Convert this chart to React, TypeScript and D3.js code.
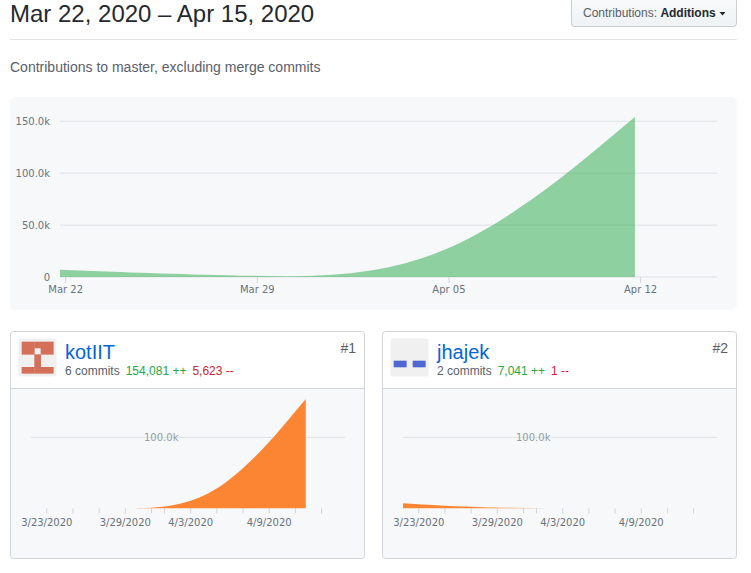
import * as d3 from "d3";

// weekly buckets (GitHub reports week starts in UTC, shown here 5h earlier)
const weeks = ["2020-03-22", "2020-03-29", "2020-04-05", "2020-04-12"];
const rangeEnd = "2020-04-15";
const totalAdditions = [7041, 0, 0, 154081];

const contributors = ["kotIIT", "jhajek"];
const ranks = ["#1", "#2"];
const commits = [6, 2];
const additions = [154081, 7041];
const deletions = [5623, 1];
const weeklyAdditions = [
  [0, 0, 0, 154081],
  [7041, 0, 0, 0],
];
const identicons = [
  ["11111", "11011", "00100", "00100", "11111"],
  ["00000", "00000", "00000", "11011", "00000"],
];
const identiconColors = ["#d4705a", "#4f67d2"];

const parseDay = d3.timeParse("%Y-%m-%d");
const shift = (s: string) => d3.timeHour.offset(parseDay(s)!, -5);
const dates = weeks.map(shift);
const domain: [Date, Date] = [shift(weeks[0]), shift(rangeEnd)];

const fmtK = (v: number) => (v === 0 ? "0" : `${(v / 1000).toFixed(1)}k`);
const fmtWeek = d3.timeFormat("%b %d");
const fmtDay = d3.timeFormat("%-m/%-d/%Y");

const SANS = "'Liberation Sans', Arial, sans-serif";
const AXIS = "'DejaVu Sans', sans-serif";

function MainChart() {
  const x = d3.scaleTime().domain(domain).range([60, 717]);
  const y = d3.scaleLinear().domain([0, d3.max(totalAdditions)!]).range([277, 117]);
  const area = d3
    .area<number>()
    .curve(d3.curveBasis)
    .x((_, i) => x(dates[i]))
    .y0(y(0))
    .y1((d) => y(d));
  const yTicks = d3.ticks(0, 150000, 3);
  const xTicks = d3.timeWeek.range(domain[0], domain[1]);

  return (
    <g>
      <rect x={10} y={97} width={727} height={213} rx={6} fill="#f6f8fa" />
      {yTicks.map((t) => (
        <g key={t}>
          <line x1={60} x2={717} y1={y(t)} y2={y(t)} stroke="#dfe2e5" />
          <text x={50} y={y(t) + 4} textAnchor="end" fontFamily={AXIS} fontSize={10} fill="#6a737d">
            {fmtK(t)}
          </text>
        </g>
      ))}
      {xTicks.map((t) => (
        <g key={+t}>
          <line x1={x(t)} x2={x(t)} y1={277} y2={283} stroke="#d1d5da" />
          <text x={x(t)} y={293} textAnchor="middle" fontFamily={AXIS} fontSize={10} fill="#6a737d">
            {fmtWeek(t)}
          </text>
        </g>
      ))}
      <path d={area(totalAdditions)!} fill="#28a745" fillOpacity={0.5} />
    </g>
  );
}

function Identicon({ left, top, idx }: { left: number; top: number; idx: number }) {
  const size = 38;
  const pad = size / 12;
  const cell = size / 6;
  return (
    <g>
      <rect x={left} y={top} width={size} height={size} rx={3} fill="#f0f0f0" />
      {identicons[idx].map((row, r) =>
        row.split("").map((c, k) =>
          c === "1" ? (
            <rect
              key={`${r}-${k}`}
              x={left + pad + k * cell}
              y={top + pad + r * cell}
              width={cell + 0.3}
              height={cell + 0.3}
              fill={identiconColors[idx]}
            />
          ) : null
        )
      )}
    </g>
  );
}

function Card({ idx, left, yMax }: { idx: number; left: number; yMax: number }) {
  const top = 331.5;
  const w = 354;
  const h = 227;
  const x0 = left + 20.5;
  const x = d3.scaleTime().domain(domain).range([x0, left + 334.5]);
  const y = d3.scaleLinear().domain([0, yMax]).range([508.3, 399]);
  const area = d3
    .area<number>()
    .curve(d3.curveBasis)
    .x((_, i) => x(dates[i]))
    .y0(y(0))
    .y1((d) => y(d));
  const xTicks = d3.timeDay.every(2)!.range(domain[0], domain[1]);
  const grid = y.ticks(2).filter((t) => t > 0);
  const clipId = `card-clip-${idx}`;

  return (
    <g>
      <defs>
        <clipPath id={clipId}>
          <rect x={left} y={top} width={w} height={h} rx={3} />
        </clipPath>
      </defs>
      <rect x={left} y={top} width={w} height={h} rx={3} fill="#fff" />
      <rect x={left} y={388} width={w} height={top + h - 388} fill="#f6f8fa" clipPath={`url(#${clipId})`} />
      <line x1={left} x2={left + w} y1={388.5} y2={388.5} stroke="#d1d5da" />
      <rect x={left} y={top} width={w} height={h} rx={3} fill="none" stroke="#d1d5da" />

      <Identicon left={left + 8} top={338.5} idx={idx} />
      <text x={left + 54.5} y={359} fontFamily={SANS} fontSize={20} fill="#0366d6">
        {contributors[idx]}
      </text>
      <text x={left + 54.5} y={375} fontFamily={SANS} fontSize={12}>
        <tspan fill="#586069">{`${commits[idx]} commits`}</tspan>
        <tspan dx={6} fill="#28a745">{`${d3.format(",")(additions[idx])} ++`}</tspan>
        <tspan dx={6} fill="#cb2431">{`${d3.format(",")(deletions[idx])} --`}</tspan>
      </text>
      <text x={left + w - 8.5} y={353.3} textAnchor="end" fontFamily={SANS} fontSize={14} fill="#586069">
        {ranks[idx]}
      </text>

      {grid.map((t) => (
        <g key={t}>
          <line x1={x0} x2={left + 334.5} y1={y(t)} y2={y(t)} stroke="#dfe2e5" />
          <text x={x0 + 113} y={y(t) + 3.5} fontFamily={AXIS} fontSize={10} fill="#959da5">
            {fmtK(t)}
          </text>
        </g>
      ))}
      {xTicks.map((t, i) => (
        <g key={+t}>
          <line x1={x(t)} x2={x(t)} y1={508.3} y2={513.5} stroke="#d1d5da" />
          {i % 3 === 0 ? (
            <text x={x(t)} y={525.5} textAnchor="middle" fontFamily={AXIS} fontSize={10} fill="#6a737d">
              {fmtDay(t)}
            </text>
          ) : null}
        </g>
      ))}
      <path d={area(weeklyAdditions[idx])!} fill="#fb8532" />
    </g>
  );
}

export default function App() {
  const yMax = d3.max(weeklyAdditions.flat())!;
  return (
    <div style={{ position: "absolute", left: 0, top: 0, width: 751, height: 573, background: "#fff" }}>
      <svg width={751} height={573} viewBox="0 0 751 573" style={{ display: "block" }}>
        <defs>
          <linearGradient id="btn-grad" x1="0" y1="0" x2="0" y2="1">
            <stop offset="0" stopColor="#fafbfc" />
            <stop offset="0.9" stopColor="#eff3f6" />
          </linearGradient>
        </defs>
        <text x={10} y={22} fontFamily={SANS} fontSize={24} fill="#24292e">
          Mar 22, 2020 – Apr 15, 2020
        </text>
        <rect x={571.5} y={-4} width={165} height={30.5} rx={3} fill="url(#btn-grad)" stroke="rgba(27,31,35,0.2)" />
        <text x={583} y={17} fontFamily={SANS} fontSize={12}>
          <tspan fill="#586069">Contributions: </tspan>
          <tspan fill="#24292e" fontWeight="bold">Additions</tspan>
        </text>
        <path d="M719.5,12 L725.5,12 L722.5,15.5 Z" fill="#24292e" />
        <line x1={10} x2={737} y1={39.5} y2={39.5} stroke="#e1e4e8" />
        <text x={10} y={72} fontFamily={SANS} fontSize={14} fill="#586069">
          Contributions to master, excluding merge commits
        </text>

        <MainChart />
        {contributors.map((c, i) => (
          <Card key={c} idx={i} left={i === 0 ? 10.5 : 382.5} yMax={yMax} />
        ))}
      </svg>
    </div>
  );
}
